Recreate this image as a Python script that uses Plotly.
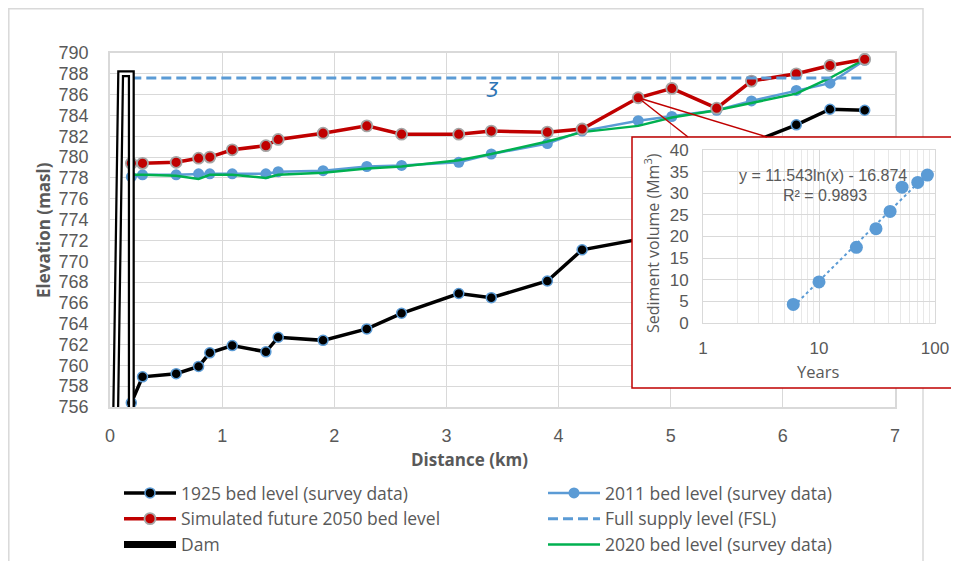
import numpy as np
import plotly.graph_objects as go

# ---------------- data ----------------
distance_km = [0.19, 0.29, 0.59, 0.79, 0.89, 1.09, 1.39, 1.50, 1.90, 2.29, 2.60,
               3.11, 3.40, 3.90, 4.21, 4.71, 5.01, 5.41, 5.72, 6.12, 6.42, 6.73]
bed_1925 = [756.4, 758.9, 759.2, 759.9, 761.2, 761.9, 761.3, 762.7, 762.4, 763.5, 765.0,
            766.9, 766.5, 768.1, 771.1, 772.1, 775.0, 778.5, 781.4, 783.1, 784.6, 784.5]
bed_2011 = [778.1, 778.3, 778.3, 778.4, 778.4, 778.4, 778.4, 778.6, 778.7, 779.1, 779.2,
            779.5, 780.3, 781.3, 782.5, 783.5, 783.9, 784.5, 785.4, 786.4, 787.1, 789.3]
bed_2050 = [779.4, 779.4, 779.5, 779.9, 780.0, 780.7, 781.1, 781.7, 782.3, 783.0, 782.2,
            782.2, 782.5, 782.4, 782.7, 785.7, 786.6, 784.7, 787.3, 788.0, 788.8, 789.4]
bed_2020 = [778.3, 778.3, 778.2, 777.9, 778.3, 778.3, 778.0, 778.3, 778.5, 778.9, 779.1,
            779.7, 780.3, 781.5, 782.4, 783.0, 783.8, 784.5, 785.2, 786.1, 787.6, 789.4]

fsl_x = [0.19, 6.73]
fsl_y = [787.6, 787.6]

dam_x = [0.05, 0.095, 0.19, 0.19]
dam_y = [755.0, 788.0, 788.0, 755.0]

x_ticks = [0, 1, 2, 3, 4, 5, 6, 7]
y_ticks = list(range(756, 791, 2))

# inset: sediment volume vs years
years = [6, 10, 21, 31, 41, 52, 71, 86]
sediment_volume = [4.3, 9.5, 17.5, 21.8, 25.8, 31.4, 32.5, 34.2]
trend_a = 11.543
trend_b = -16.874
trend_r2 = 0.9893

# ---------------- layout helpers ----------------
# the page body adds an 8 px margin, so the figure is 8 px smaller than the window
W, H = 951, 553
ML, MR, MT, MB = 102, 0, 45, 154
PW = W - ML - MR
PH = H - MT - MB


def pxx(p):
    """reference-image x pixel -> paper x"""
    return (p - 8 - ML) / PW


def pxy(p):
    """reference-image y pixel -> paper y"""
    return (MT + PH - (p - 8)) / PH


def dx(p):
    """reference-image x pixel -> main-axis data x"""
    return (p - 110) / (785 / 7)


def dy(p):
    """reference-image y pixel -> main-axis data y"""
    return 790 - (p - 53) / (PH / 34)


FONT = "Open Sans"
TICKFONT = "Liberation Sans"
GREY = "#595959"
GRID = "#D9D9D9"
BLUE = "#5B9BD5"
RED = "#C00000"
GREEN = "#00B050"

fig = go.Figure()

# 1925
fig.add_trace(go.Scatter(
    x=distance_km, y=bed_1925, mode="lines+markers", name="1925 bed level (survey data)",
    line=dict(color="black", width=3.5),
    marker=dict(color="black", size=10, line=dict(color=BLUE, width=1.5)),
    legend="legend", legendrank=1))
# 2011
fig.add_trace(go.Scatter(
    x=distance_km, y=bed_2011, mode="lines+markers", name="2011 bed level (survey data)",
    line=dict(color=BLUE, width=2.5),
    marker=dict(color=BLUE, size=11),
    legend="legend2", legendrank=1))
# 2020
fig.add_trace(go.Scatter(
    x=distance_km, y=bed_2020, mode="lines", name="2020 bed level (survey data)",
    line=dict(color=GREEN, width=2.5),
    legend="legend2", legendrank=3))
# 2050
fig.add_trace(go.Scatter(
    x=distance_km, y=bed_2050, mode="lines+markers", name="Simulated future 2050 bed level",
    line=dict(color=RED, width=3.5),
    marker=dict(color=RED, size=11, line=dict(color="#A5A5A5", width=1.8)),
    legend="legend", legendrank=2))
# FSL
fig.add_trace(go.Scatter(
    x=fsl_x, y=fsl_y, mode="lines", name="Full supply level (FSL)",
    line=dict(color=BLUE, width=3, dash="10px,5px"),
    legend="legend2", legendrank=2))
# Dam (double line)
fig.add_trace(go.Scatter(
    x=dam_x, y=dam_y, mode="lines", name="Dam",
    line=dict(color="black", width=7), legendgroup="dam",
    legend="legend", legendrank=3))
fig.add_trace(go.Scatter(
    x=dam_x, y=dam_y, mode="lines", name="Dam", showlegend=False,
    line=dict(color="white", width=2.5), legendgroup="dam", hoverinfo="skip"))

# inset background subplot (white box covering the main chart)
fig.add_trace(go.Scatter(
    x=[0], y=[0], xaxis="x2", yaxis="y2", mode="markers",
    marker=dict(opacity=0), showlegend=False, hoverinfo="skip"))

# inset trend line (from the displayed regression equation)
trend_x = np.geomspace(min(years), max(years), 60)
trend_y = trend_a * np.log(trend_x) + trend_b
fig.add_trace(go.Scatter(
    x=trend_x, y=trend_y, xaxis="x3", yaxis="y3", mode="lines",
    line=dict(color=BLUE, width=2, dash="dot"), showlegend=False, hoverinfo="skip"))
fig.add_trace(go.Scatter(
    x=years, y=sediment_volume, xaxis="x3", yaxis="y3", mode="markers",
    marker=dict(color=BLUE, size=13), showlegend=False))

minor_log = [2, 3, 4, 5, 6, 7, 8, 9, 20, 30, 40, 50, 60, 70, 80, 90]

legend_common = dict(xanchor="left", yanchor="top", orientation="v",
                     font=dict(size=17.5, color=GREY, family=FONT), bgcolor="rgba(0,0,0,0)",
                     tracegroupgap=0, itemwidth=52)

fig.update_layout(
    width=W, height=H,
    margin=dict(l=ML, r=MR, t=MT, b=MB, autoexpand=False),
    paper_bgcolor="white", plot_bgcolor="white",
    font=dict(family=FONT, color=GREY, size=17),
    xaxis=dict(domain=[0, pxx(895)], range=[0, 7], tickvals=x_ticks,
               showgrid=True, gridcolor=GRID, gridwidth=1, zeroline=False,
               showline=True, linecolor=GRID, linewidth=1.5, mirror=True,
               ticks="", ticklabelstandoff=12,
               tickfont=dict(size=18, family=TICKFONT, color=GREY)),
    yaxis=dict(domain=[0, 1], range=[756, 790], tickvals=y_ticks,
               showgrid=True, gridcolor=GRID, gridwidth=1, zeroline=False,
               showline=True, linecolor=GRID, linewidth=1.5, mirror=True,
               ticks="", ticklabelstandoff=16,
               tickfont=dict(size=18, family=TICKFONT, color=GREY)),
    xaxis2=dict(domain=[pxx(632), 1], range=[0, 1], visible=False, anchor="y2"),
    yaxis2=dict(domain=[pxy(388), pxy(137)], range=[0, 1], visible=False, anchor="x2"),
    xaxis3=dict(domain=[pxx(703), pxx(935)], type="log", range=[0, 2],
                tickvals=[1, 10, 100], ticktext=["1", "10", "100"],
                showgrid=True, gridcolor=GRID, zeroline=False,
                minor=dict(tickvals=minor_log, showgrid=True, gridcolor="#E8E8E8", ticks=""),
                showline=True, linecolor=GRID, mirror=True, anchor="y3",
                ticks="", ticklabelstandoff=10,
                tickfont=dict(size=17, family=TICKFONT, color=GREY)),
    yaxis3=dict(domain=[pxy(323), pxy(150)], range=[0, 40], dtick=5,
                showgrid=True, gridcolor=GRID, zeroline=False,
                showline=True, linecolor=GRID, mirror=True, anchor="x3",
                ticks="", ticklabelstandoff=10,
                tickfont=dict(size=17, family=TICKFONT, color=GREY)),
    legend=dict(x=pxx(119), y=pxy(475), **legend_common),
    legend2=dict(x=pxx(543), y=pxy(475), **legend_common),
    showlegend=True,
)

# shapes: outer chart border, inset box, callout lines
fig.add_shape(type="rect", xref="paper", yref="paper",
              x0=pxx(8.8), x1=pxx(923), y0=pxy(575), y1=pxy(8.8),
              line=dict(color=GRID, width=1.5), layer="below")
fig.add_shape(type="rect", xref="paper", yref="paper",
              x0=pxx(632), x1=pxx(970), y0=pxy(388), y1=pxy(137),
              line=dict(color=RED, width=1.5), layer="above")
for bx in [dx(688), dx(767)]:
    fig.add_shape(type="line", xref="x", yref="y",
                  x0=distance_km[15], y0=bed_2050[15], x1=bx, y1=dy(137),
                  line=dict(color=RED, width=1.5), layer="above")

# annotations
ann = [
    dict(text="<b>Elevation (masl)</b>", x=pxx(43), y=pxy(230), textangle=-90,
         font=dict(size=17, color=GREY)),
    dict(text="<b>Distance (km)</b>", x=pxx(469), y=pxy(460), font=dict(size=17, color=GREY)),
    dict(text="Sediment volume (Mm<sup>3</sup>)", x=pxx(652), y=pxy(243), textangle=-90,
         font=dict(size=16, color=GREY)),
    dict(text="Years", x=pxx(818), y=pxy(371), font=dict(size=16.5, color=GREY)),
    dict(text=f"y = {trend_a}ln(x) - {abs(trend_b)}", x=pxx(823), y=pxy(175),
         font=dict(size=16, color=GREY, family=TICKFONT)),
    dict(text=f"R² = {trend_r2}", x=pxx(825), y=pxy(195),
         font=dict(size=16, color=GREY, family=TICKFONT)),
    dict(text="<i>ʒ</i>", x=pxx(492), y=pxy(86), font=dict(size=20, color="#2E75B6", family="DejaVu Sans")),
]
for a in ann:
    fig.add_annotation(xref="paper", yref="paper", showarrow=False,
                       xanchor="center", yanchor="middle", **a)

fig.write_html("out.html")
